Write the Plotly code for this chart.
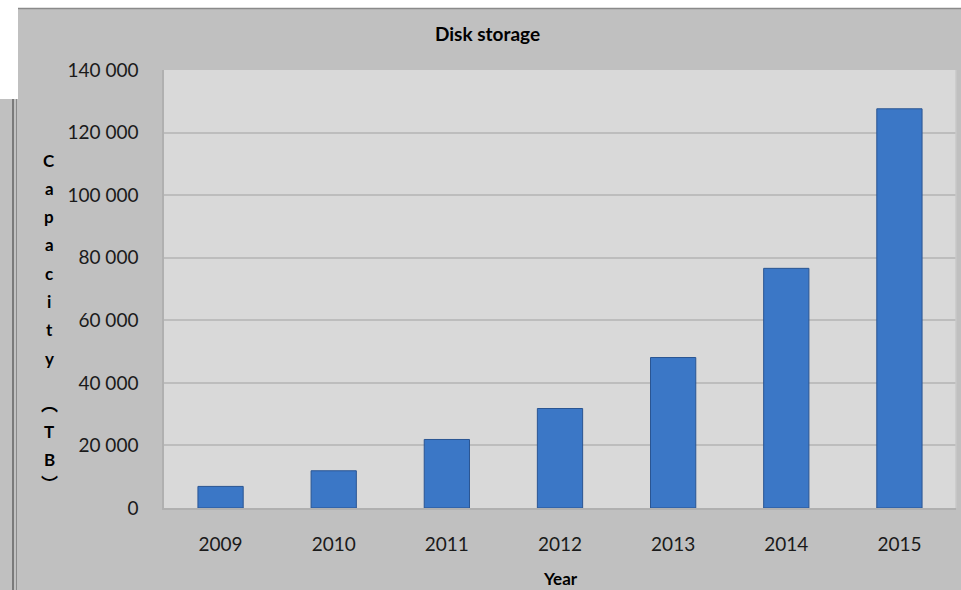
import plotly.graph_objects as go

# ---- data ----
years = ["2009", "2010", "2011", "2012", "2013", "2014", "2015"]
capacity_tb = [6900, 11900, 21900, 31800, 48100, 76600, 127600]
y_ticks = [0, 20000, 40000, 60000, 80000, 100000, 120000, 140000]

W, H = 961, 590
L, R, T, B = 164, 5, 70, 82  # plot area 164..956 x 70..508
PW, PH = W - L - R, H - T - B


def px(x):
    return (x - L) / PW


def py(y):
    return (H - B - y) / PH


FONT = "Lato, Carlito, Calibri, 'Open Sans', sans-serif"
CJK = "'Noto Sans CJK SC', 'Noto Sans CJK JP', sans-serif"

fig = go.Figure()
fig.add_trace(go.Bar(
    x=years, y=capacity_tb,
    marker=dict(color="#3b77c6", line=dict(color="#2a5592", width=1)),
    hoverinfo="x+y",
))

annotations = [
    dict(text="<b>Disk storage</b>", x=px(487), y=py(34), xref="paper", yref="paper",
         showarrow=False, font=dict(family=FONT, size=19, color="#000000"),
         xanchor="center", yanchor="middle"),
    dict(text="<b>Year</b>", x=px(560), y=py(578), xref="paper", yref="paper",
         showarrow=False, font=dict(family=FONT, size=17, color="#000000"),
         xanchor="center", yanchor="middle"),
]

# stacked vertical y-axis title "Capacity (TB)" (parentheses in vertical form)
title_chars = ["C", "a", "p", "a", "c", "i", "t", "y", "︵", "T", "B", "︶"]
title_char_y = [160, 188, 216, 244, 273, 301, 329, 358, 403, 431, 459, 482]
for ch, yy in zip(title_chars, title_char_y):
    vertical_paren = ch in "︵︶"
    annotations.append(dict(
        text="<b>%s</b>" % ch, x=px(49), y=py(yy), xref="paper", yref="paper",
        showarrow=False,
        font=dict(family=CJK if vertical_paren else FONT, size=17, color="#000000"),
        xanchor="center", yanchor="middle",
    ))

shapes = [
    # white strip along top and top-left block
    dict(type="rect", xref="paper", yref="paper", x0=px(-5), x1=px(970), y0=py(-5), y1=py(8),
         fillcolor="#ffffff", line=dict(width=0), layer="above"),
    dict(type="rect", xref="paper", yref="paper", x0=px(-5), x1=px(18), y0=py(-5), y1=py(99),
         fillcolor="#ffffff", line=dict(width=0), layer="above"),
    # top edge shadow
    dict(type="line", xref="paper", yref="paper", x0=px(18), x1=px(961), y0=py(8.5), y1=py(8.5),
         line=dict(color="#8a8a8a", width=1.5), layer="above"),
    # left frame lines
    dict(type="line", xref="paper", yref="paper", x0=px(13), x1=px(13), y0=py(99), y1=py(592),
         line=dict(color="#7a7a7a", width=2), layer="above"),
    dict(type="line", xref="paper", yref="paper", x0=px(16.5), x1=px(16.5), y0=py(99), y1=py(592),
         line=dict(color="#8a8a8a", width=1), layer="above"),
    # plot-area right edge
    dict(type="line", xref="paper", yref="paper", x0=1, x1=1, y0=0, y1=1,
         line=dict(color="#c8c8c8", width=1.5), layer="above"),
]

fig.update_layout(
    width=W, height=H,
    margin=dict(l=L, r=R, t=T, b=B, pad=0),
    paper_bgcolor="#c0c0c0",
    plot_bgcolor="#d9d9d9",
    separators=". ",
    bargap=0.6,
    showlegend=False,
    annotations=annotations,
    shapes=shapes,
    font=dict(family=FONT, color="#000000"),
)
fig.update_xaxes(
    type="category",
    showgrid=False,
    showline=True, linecolor="#b0b0b0", linewidth=1.5,
    ticks="",
    tickfont=dict(family=FONT, size=19, color="#1a1a1a"),
    ticklabelstandoff=18,
    fixedrange=True,
)
fig.update_yaxes(
    range=[0, 140000],
    tickvals=y_ticks,
    tickformat=",d",
    showgrid=True, gridcolor="#bdbdbd", gridwidth=1.5,
    zeroline=False,
    showline=True, linecolor="#b0b0b0", linewidth=1.5,
    ticks="",
    tickfont=dict(family=FONT, size=19, color="#1a1a1a"),
    ticklabelstandoff=20,
    fixedrange=True,
)

fig.write_html("out.html")
